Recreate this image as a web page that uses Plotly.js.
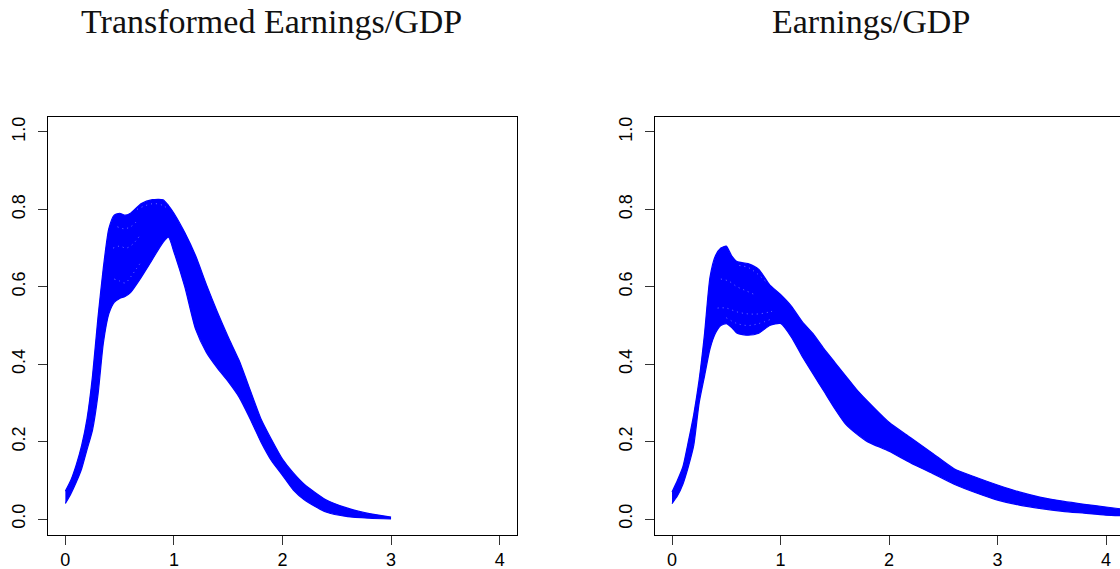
<!DOCTYPE html>
<html>
<head>
<meta charset="utf-8">
<script src="https://cdn.plot.ly/plotly-3.0.1.min.js"></script>
<style>html,body{margin:0;padding:0;background:#fff;}#chart{width:1120px;height:569px;}</style>
</head>
<body>
<div id="chart"></div>
<script>
// Panel titles
const titleLeft = "Transformed Earnings/GDP";
const titleRight = "Earnings/GDP";

// Tick labels
const xTicks = [0, 1, 2, 3, 4];
const yTicks = [0, 0.2, 0.4, 0.6, 0.8, 1.0];
const yTickText = ["0.0", "0.2", "0.4", "0.6", "0.8", "1.0"];

// Left panel: envelope of the density curves (transformed earnings/GDP)
const xLeft = [0,0.05,0.1,0.15,0.2,0.25,0.3,0.35,0.4,0.45,0.5,0.55,0.6,0.7,0.8,0.9,0.95,1.0,1.1,1.2,1.3,1.4,1.5,1.6,1.7,1.8,1.9,2.0,2.1,2.2,2.4,2.6,2.8,3.0];
const upperLeft = [0.072,0.10,0.14,0.19,0.26,0.37,0.52,0.65,0.75,0.785,0.79,0.785,0.79,0.815,0.825,0.825,0.81,0.79,0.74,0.68,0.605,0.535,0.47,0.41,0.335,0.26,0.205,0.155,0.119,0.09,0.05,0.028,0.014,0.005];
const lowerLeft = [0.040,0.065,0.095,0.13,0.18,0.23,0.32,0.455,0.53,0.56,0.57,0.575,0.585,0.625,0.67,0.715,0.728,0.69,0.60,0.49,0.43,0.39,0.355,0.315,0.26,0.20,0.15,0.113,0.075,0.05,0.018,0.006,0.002,0.0];

// Left panel: visible gaps between individual curves in the sparse upper part
const gapLeftA_x = [0.45,0.5,0.55,0.6,0.65,0.7];
const gapLeftA_y = [0.62,0.615,0.61,0.625,0.645,0.665];
const gapLeftB_x = [0.44,0.5,0.56,0.62,0.68];
const gapLeftB_y = [0.70,0.705,0.70,0.71,0.73];
const gapLeftC_x = [0.48,0.54,0.6,0.66];
const gapLeftC_y = [0.755,0.75,0.755,0.77];
const gapLeftD_x = [0.66,0.74,0.82,0.9,0.95];
const gapLeftD_y = [0.80,0.81,0.815,0.81,0.80];

// Right panel: envelope of the density curves (earnings/GDP)
const xRight = [0,0.05,0.1,0.15,0.2,0.25,0.3,0.35,0.4,0.45,0.5,0.55,0.6,0.7,0.8,0.9,1.0,1.1,1.2,1.3,1.4,1.5,1.6,1.7,1.8,2.0,2.2,2.4,2.6,2.8,3.0,3.2,3.4,3.6,3.8,4.0,4.2];
const upperRight = [0.07,0.10,0.135,0.20,0.27,0.36,0.48,0.625,0.68,0.70,0.705,0.68,0.665,0.66,0.645,0.605,0.58,0.55,0.51,0.479,0.44,0.405,0.37,0.335,0.305,0.25,0.21,0.17,0.13,0.108,0.088,0.07,0.056,0.046,0.038,0.031,0.024];
const lowerRight = [0.04,0.06,0.09,0.135,0.19,0.30,0.37,0.44,0.48,0.50,0.505,0.495,0.48,0.475,0.48,0.50,0.505,0.47,0.42,0.375,0.33,0.285,0.245,0.22,0.20,0.175,0.145,0.118,0.09,0.068,0.049,0.036,0.027,0.02,0.015,0.010,0.008];

// Right panel: visible gaps between individual curves
const gapRightA_x = [0.62,0.7,0.78,0.86];
const gapRightA_y = [0.655,0.65,0.635,0.615];
const gapRightB_x = [0.45,0.52,0.6,0.68,0.76];
const gapRightB_y = [0.62,0.615,0.60,0.59,0.58];
const gapRightC_x = [0.42,0.5,0.6,0.7,0.8,0.9,0.96];
const gapRightC_y = [0.545,0.545,0.535,0.53,0.53,0.535,0.54];
const gapRightD_x = [0.5,0.6,0.7,0.8,0.9];
const gapRightD_y = [0.52,0.505,0.50,0.505,0.515];

const BLUE = "#0000ff";

function band(x, lo, hi, xa, ya) {
  return [
    {x: x, y: lo, xaxis: xa, yaxis: ya, type: "scatter", mode: "lines",
     line: {color: BLUE, width: 1.2, shape: "spline", smoothing: 0.6}, hoverinfo: "skip"},
    {x: x, y: hi, xaxis: xa, yaxis: ya, type: "scatter", mode: "lines", fill: "tonexty",
     fillcolor: BLUE, line: {color: BLUE, width: 1.2, shape: "spline", smoothing: 0.6}, hoverinfo: "skip"}
  ];
}
function gap(x, y, xa, ya) {
  return {x: x, y: y, xaxis: xa, yaxis: ya, type: "scatter", mode: "lines", opacity: 0.55,
    line: {color: "#ffffff", width: 0.8, shape: "spline", dash: "1px,4px"}, hoverinfo: "skip"};
}

const data = [].concat(
  band(xLeft, lowerLeft, upperLeft, "x", "y"),
  [gap(gapLeftA_x, gapLeftA_y, "x", "y"), gap(gapLeftB_x, gapLeftB_y, "x", "y"),
   gap(gapLeftC_x, gapLeftC_y, "x", "y"), gap(gapLeftD_x, gapLeftD_y, "x", "y")],
  band(xRight, lowerRight, upperRight, "x2", "y2"),
  [gap(gapRightA_x, gapRightA_y, "x2", "y2"), gap(gapRightB_x, gapRightB_y, "x2", "y2"),
   gap(gapRightC_x, gapRightC_y, "x2", "y2"), gap(gapRightD_x, gapRightD_y, "x2", "y2")]
);

const tickFont = {family: "Liberation Sans, Arial, sans-serif", size: 18, color: "#000"};
function xAxis(domain, range, anchor) {
  return {domain: domain, range: range, anchor: anchor, tickvals: xTicks, ticktext: xTicks.map(String),
    ticks: "outside", ticklen: 9, tickwidth: 1, tickcolor: "#333", showline: true, mirror: true,
    linecolor: "#000", linewidth: 1, showgrid: false, zeroline: false, tickfont: tickFont, fixedrange: true};
}
function yAxis(domain, anchor, mirror) {
  return {domain: domain, range: [-0.04, 1.04], anchor: anchor, tickvals: yTicks, ticktext: yTickText,
    ticks: "outside", ticklen: 9, tickwidth: 1, tickcolor: "#333", showline: true, mirror: mirror,
    linecolor: "#000", linewidth: 1, showgrid: false, zeroline: false, tickangle: -90, tickfont: tickFont,
    ticklabelstandoff: 6, fixedrange: true};
}

const yDom = [1 - 534.5 / 569, 1 - 116.5 / 569];
const titleFont = {family: "Liberation Serif, serif", size: 34, color: "#111"};
const layout = {
  width: 1120, height: 569,
  margin: {l: 0, r: 0, t: 0, b: 0},
  paper_bgcolor: "#fff", plot_bgcolor: "#fff",
  showlegend: false,
  xaxis: xAxis([48 / 1120, 517 / 1120], [-0.16, 4.16], "y"),
  yaxis: yAxis(yDom, "x", true),
  xaxis2: xAxis([655 / 1120, 1], [-0.157, 4.129], "y2"),
  yaxis2: yAxis(yDom, "x2", false),
  annotations: [
    {text: titleLeft, xref: "paper", yref: "paper", x: 271 / 1120, y: 1 - 22 / 569,
     xanchor: "center", yanchor: "middle", showarrow: false, font: titleFont},
    {text: titleRight, xref: "paper", yref: "paper", x: 871 / 1120, y: 1 - 22 / 569,
     xanchor: "center", yanchor: "middle", showarrow: false, font: titleFont}
  ]
};

Plotly.newPlot("chart", data, layout, {staticPlot: true, displayModeBar: false});
</script>
</body>
</html>
